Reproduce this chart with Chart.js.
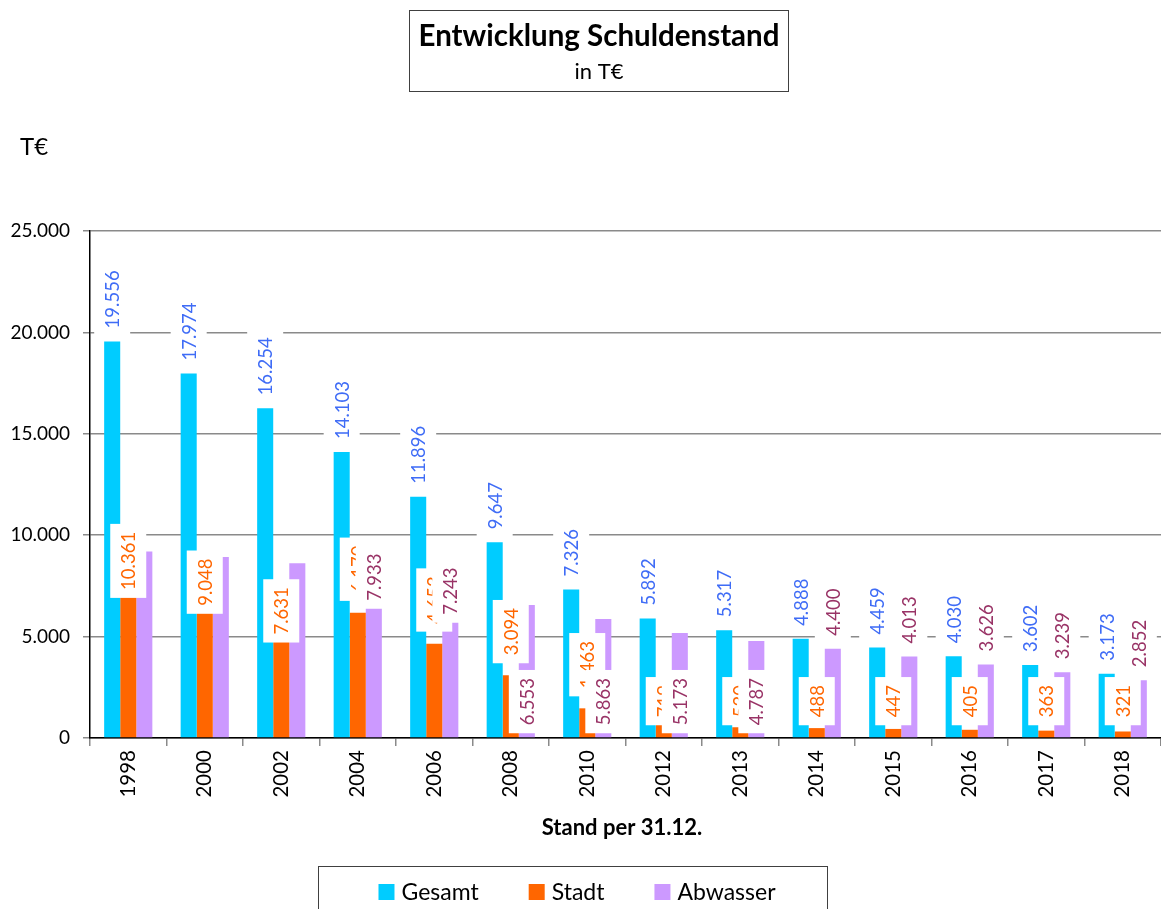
<!DOCTYPE html>
<html>
<head>
<meta charset="utf-8">
<script src="https://cdn.jsdelivr.net/npm/chart.js@4.4.1/dist/chart.umd.min.js"></script>
<style>
  html, body { margin: 0; padding: 0; background: #fff; }
  #wrap { width: 1161px; height: 909px; position: relative; }
</style>
</head>
<body>
<div id="wrap"><canvas id="c" width="1161" height="909"></canvas></div>
<script>
const categories = ['1998','2000','2002','2004','2006','2008','2010','2012','2013','2014','2015','2016','2017','2018'];
const gesamt   = [19556,17974,16254,14103,11896,9647,7326,5892,5317,4888,4459,4030,3602,3173];
const stadt    = [10361,9048,7631,6170,4653,3094,1463,719,530,488,447,405,363,321];
const abwasser = [9195,8926,8623,7933,7243,6553,5863,5173,4787,4400,4013,3626,3239,2852];
const seriesNames = ['Gesamt','Stadt','Abwasser'];
const yMax = 25000;
const yStep = 5000;

const FONT = 'Lato, "Open Sans", sans-serif';
const barColors = ['#00CCFF','#FF6600','#CC99FF'];
const labelColors = ['#3F6CF6','#FF6600','#993366'];

function fmt(v){ return String(v).replace(/\B(?=(\d{3})+(?!\d))/g, '.'); }

const valueLabels = {
  id: 'valueLabels',
  afterDatasetsDraw(chart){
    const ctx = chart.ctx;
    const order = [1, 2, 0];
    const padX = 9, padY = 8, th = 18;
    ctx.save();
    ctx.font = '18.5px ' + FONT;
    order.forEach(di => {
      const meta = chart.getDatasetMeta(di);
      const ds = chart.data.datasets[di];
      meta.data.forEach((bar, i) => {
        const v = ds.data[i];
        const txt = fmt(v);
        const tw = ctx.measureText(txt).width;
        const base = bar.base, top = bar.y;
        let cy;
        if (di === 0) {
          cy = top - 13 - tw / 2;
        } else if (di === 1) {
          if (v >= 7500) cy = top + 4 + tw / 2;
          else if (v >= 1000) cy = top - 20 - tw / 2;
          else cy = base - 20 - tw / 2;
        } else {
          if (v > 8000) return;
          if (v >= 7000) cy = top;
          else if (v >= 4500) cy = base - 12 - tw / 2;
          else cy = top - 13 - tw / 2;
        }
        ctx.fillStyle = '#ffffff';
        ctx.fillRect(bar.x - th / 2 - padX, cy - tw / 2 - padY, th + 2 * padX, tw + 2 * padY);
        ctx.save();
        ctx.translate(bar.x, cy);
        ctx.rotate(-Math.PI / 2);
        ctx.fillStyle = labelColors[di];
        ctx.textAlign = 'center';
        ctx.textBaseline = 'middle';
        ctx.fillText(txt, 0, 1);
        ctx.restore();
      });
    });
    ctx.restore();
  }
};

const decorations = {
  id: 'decorations',
  afterDraw(chart){
    const ctx = chart.ctx;
    ctx.save();
    // Title box
    ctx.strokeStyle = '#404040';
    ctx.lineWidth = 1;
    ctx.strokeRect(409.5, 10.5, 379, 81);
    ctx.fillStyle = '#000';
    ctx.textAlign = 'center';
    ctx.textBaseline = 'middle';
    ctx.font = 'bold 29.5px ' + FONT;
    ctx.fillText('Entwicklung Schuldenstand', 599, 36);
    ctx.font = '22px ' + FONT;
    ctx.fillText('in T€', 599, 72);
    // Unit
    ctx.textAlign = 'left';
    ctx.font = '24px ' + FONT;
    ctx.fillText('T€', 20, 147);
    // X axis title
    ctx.textAlign = 'center';
    ctx.font = 'bold 22px ' + FONT;
    ctx.fillText('Stand per 31.12.', 622, 828);
    // Legend box
    ctx.strokeStyle = '#404040';
    ctx.strokeRect(318.5, 866.5, 509, 60);
    ctx.font = '23px ' + FONT;
    const sq = 16, gapSq = 7, gapItem = 50;
    const ws = chart.data.datasets.map(d => ctx.measureText(d.label).width);
    let total = 0;
    ws.forEach((w, k) => { total += sq + gapSq + w + (k < ws.length - 1 ? gapItem : 0); });
    let x = 577 - total / 2;
    const ly = 892;
    chart.data.datasets.forEach((d, k) => {
      ctx.fillStyle = d.backgroundColor;
      ctx.fillRect(x, ly - 8, sq, sq);
      ctx.fillStyle = '#000';
      ctx.textAlign = 'left';
      ctx.fillText(d.label, x + sq + gapSq, ly + 1);
      x += sq + gapSq + ws[k] + gapItem;
    });
    ctx.restore();
  }
};

new Chart(document.getElementById('c'), {
  type: 'bar',
  data: {
    labels: categories,
    datasets: [
      { label: seriesNames[0], data: gesamt,   backgroundColor: barColors[0] },
      { label: seriesNames[1], data: stadt,    backgroundColor: barColors[1] },
      { label: seriesNames[2], data: abwasser, backgroundColor: barColors[2] }
    ]
  },
  options: {
    responsive: false,
    animation: false,
    devicePixelRatio: 1,
    layout: { padding: { top: 231, left: 0, right: 0, bottom: 0 } },
    datasets: { bar: { categoryPercentage: 0.63, barPercentage: 1.0, borderWidth: 0 } },
    plugins: {
      legend: { display: false },
      title: { display: false },
      tooltip: { enabled: false }
    },
    scales: {
      x: {
        grid: { display: true, drawOnChartArea: false, drawTicks: true, tickLength: 8, color: '#8a8a8a', lineWidth: 1.5, offset: true },
        border: { display: true, color: '#000', width: 1.5 },
        ticks: { autoSkip: false, minRotation: 90, maxRotation: 90, padding: 4, color: '#000', font: { family: FONT, size: 20.5 } },
        afterFit(scale){ scale.height = 909 - 738; }
      },
      y: {
        min: 0, max: yMax,
        grid: { color: '#8a8a8a', lineWidth: 1.5, tickLength: 7, drawTicks: true },
        border: { display: true, color: '#000', width: 1.5 },
        ticks: { stepSize: yStep, padding: 13, color: '#000', font: { family: FONT, size: 19 }, callback: v => fmt(v) },
        afterFit(scale){ scale.width = 90; }
      }
    }
  },
  plugins: [valueLabels, decorations]
});
</script>
</body>
</html>
